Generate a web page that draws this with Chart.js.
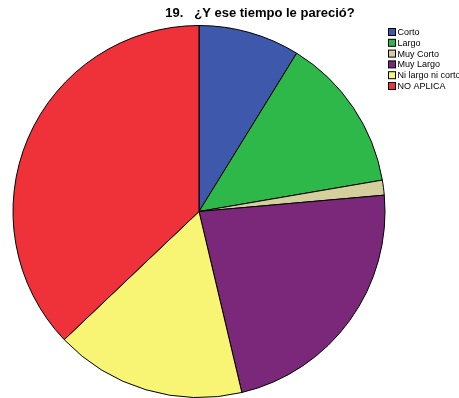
<!DOCTYPE html>
<html>
<head>
<meta charset="utf-8">
<title>19. ¿Y ese tiempo le pareció?</title>
<script src="https://cdn.jsdelivr.net/npm/chart.js@4/dist/chart.umd.min.js"></script>
<style>
  html, body { margin: 0; padding: 0; background: #fff; }
  #wrap { width: 459px; height: 398px; position: relative; }
</style>
</head>
<body>
<div id="wrap"><canvas id="pie"></canvas></div>
<script>
// Respuestas a la pregunta 19 (porcentaje del total)
const titleText = '19.   ¿Y ese tiempo le pareció?';
const categories = ['Corto', 'Largo', 'Muy Corto', 'Muy Largo', 'Ni largo ni corto', 'NO APLICA'];
const percents = [8.8, 13.5, 1.3, 22.7, 16.6, 37.1];
const colors = ['#3E58AC', '#2FB84A', '#D4CF9C', '#7B287B', '#F9F574', '#EF313A'];

// Title and legend in the upper right, drawn from the chart's own data
const decorations = {
  id: 'decorations',
  afterDraw(chart) {
    const ctx = chart.ctx;
    ctx.save();
    ctx.fillStyle = '#000';
    ctx.font = 'bold 13px "Liberation Sans", Arial, sans-serif';
    ctx.textAlign = 'center';
    ctx.textBaseline = 'alphabetic';
    ctx.fillText(titleText, 260, 17);

    const ds = chart.data.datasets[0];
    ctx.font = '9px "Liberation Sans", Arial, sans-serif';
    ctx.textAlign = 'left';
    ctx.textBaseline = 'middle';
    chart.data.labels.forEach((lab, i) => {
      const y = 28 + i * 10.8;
      ctx.fillStyle = ds.backgroundColor[i];
      ctx.fillRect(388.5, y + 0.5, 7, 7);
      ctx.strokeStyle = '#000';
      ctx.lineWidth = 1;
      ctx.strokeRect(388.5, y + 0.5, 7, 7);
      ctx.fillStyle = '#000';
      ctx.fillText(lab, 397.5, y + 4.5);
    });
    ctx.restore();
  }
};

new Chart(document.getElementById('pie'), {
  type: 'pie',
  data: {
    labels: categories,
    datasets: [{
      data: percents,
      backgroundColor: colors,
      borderColor: '#000',
      borderWidth: 1
    }]
  },
  options: {
    responsive: true,
    maintainAspectRatio: false,
    animation: false,
    layout: { padding: { left: 12, top: 25, right: 73, bottom: 0 } },
    plugins: {
      legend: { display: false },
      title: { display: false },
      tooltip: { enabled: false }
    }
  },
  plugins: [decorations]
});
</script>
</body>
</html>
